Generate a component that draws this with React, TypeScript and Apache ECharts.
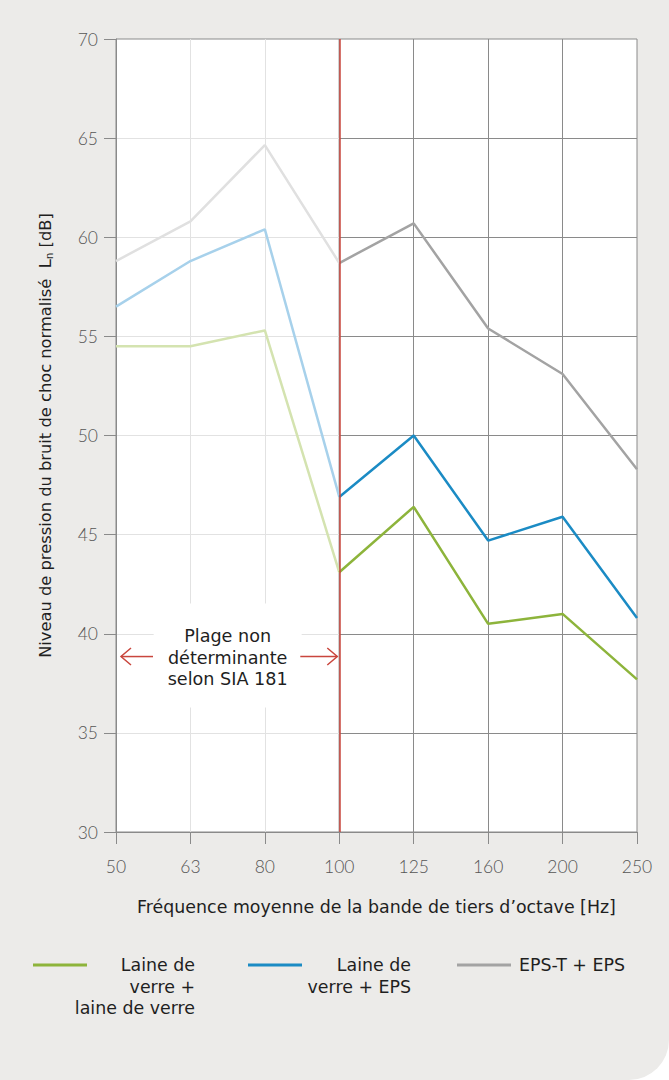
import React, { useEffect, useRef } from "react";
import * as echarts from "echarts";

// Third-octave band centre frequencies [Hz]
const FREQUENCIES = ["50", "63", "80", "100", "125", "160", "200", "250"];
// Bands up to 100 Hz are not decisive according to SIA 181
const SPLIT_INDEX = 3;

// Normalised impact sound pressure level L'n [dB] per construction
const LAINE_LAINE = [54.5, 54.5, 55.3, 43.1, 46.4, 40.5, 41.0, 37.7];
const LAINE_EPS = [56.5, 58.8, 60.4, 46.9, 50.0, 44.7, 45.9, 40.8];
const EPST_EPS = [58.8, 60.8, 64.65, 58.7, 60.7, 55.4, 53.1, 48.3];

const SERIES_VALUES = [LAINE_LAINE, LAINE_EPS, EPST_EPS];
const SERIES_NAMES = [
  "Laine de verre + laine de verre",
  "Laine de verre + EPS",
  "EPS-T + EPS",
];
const LEGEND_LABELS = ["Laine de\nverre +\nlaine de verre", "Laine de\nverre + EPS", "EPS-T + EPS"];

const Y_MIN = 30;
const Y_MAX = 70;
const Y_STEP = 5;

const NOTE_LINES = ["Plage non", "déterminante", "selon SIA 181"];
const NOTE_LEVEL = 38.85;

const X_TITLE = "Fréquence moyenne de la bande de tiers d’octave [Hz]";

// Styling
const DARK = ["#8db43b", "#1b8bc4", "#a3a3a3"];
const LIGHT = ["#d4e3b0", "#a7d1eb", "#e0e0e0"];
const GRID_LIGHT = "#e2e2e2";
const GRID_DARK = "#8a8a8a";
const RED = "#c9463d";
const FONT = "'DejaVu Sans', 'Open Sans', sans-serif";
const NUM_FONT = "Lato, 'Open Sans', sans-serif";
const TEXT = "#1f1f1f";

// Plot layout
const PLOT_LEFT = 116;
const PLOT_RIGHT = 637;
const PLOT_TOP = 39;
const PLOT_BOTTOM = 832;
const STEP = (PLOT_RIGHT - PLOT_LEFT) / (FREQUENCIES.length - 1);
const SPLIT_X = PLOT_LEFT + STEP * SPLIT_INDEX;

function buildOption(): echarts.EChartsOption {
  const gridBase = {
    top: PLOT_TOP,
    height: PLOT_BOTTOM - PLOT_TOP,
    show: true,
    backgroundColor: "#ffffff",
    borderColor: GRID_DARK,
    borderWidth: 1,
    containLabel: false,
  };

  const tickStyle = { show: true, inside: false, length: 12, lineStyle: { color: GRID_DARK, width: 1 } };
  const labelStyle = { color: "#555555", fontSize: 17.5, fontFamily: NUM_FONT, fontWeight: 300 as any };

  const leftCats = FREQUENCIES.slice(0, SPLIT_INDEX + 1);
  const rightCats = FREQUENCIES.slice(SPLIT_INDEX);

  const series: any[] = [];
  SERIES_VALUES.forEach((values, i) => {
    series.push({
      name: SERIES_NAMES[i] + " (50–100 Hz)",
      type: "line",
      xAxisIndex: 0,
      yAxisIndex: 0,
      data: values.slice(0, SPLIT_INDEX + 1),
      symbol: "none",
      lineStyle: { color: LIGHT[i], width: 2.5 },
      z: 2,
    });
  });
  SERIES_VALUES.forEach((values, i) => {
    series.push({
      name: SERIES_NAMES[i],
      type: "line",
      xAxisIndex: 1,
      yAxisIndex: 1,
      data: values.slice(SPLIT_INDEX),
      symbol: "none",
      lineStyle: { color: DARK[i], width: 2.5 },
      z: 3,
      markLine:
        i === 0
          ? {
              silent: true,
              symbol: ["none", "none"],
              label: { show: false },
              lineStyle: { color: RED, width: 1.5, type: "solid" },
              data: [{ xAxis: FREQUENCIES[SPLIT_INDEX] }],
              z: 5,
            }
          : undefined,
    });
  });

  return {
    animation: false,
    backgroundColor: "transparent",
    textStyle: { fontFamily: FONT },
    grid: [
      { ...gridBase, left: PLOT_LEFT, width: SPLIT_X - PLOT_LEFT },
      { ...gridBase, left: SPLIT_X, width: PLOT_RIGHT - SPLIT_X },
    ],
    xAxis: [
      {
        type: "category",
        gridIndex: 0,
        data: leftCats,
        boundaryGap: false,
        axisLine: { show: true, lineStyle: { color: GRID_DARK } },
        axisTick: { ...tickStyle, alignWithLabel: true },
        axisLabel: { ...labelStyle, margin: 25, interval: 0 },
        splitLine: { show: true, showMinLine: false, showMaxLine: false, lineStyle: { color: GRID_LIGHT, width: 1 } },
      },
      {
        type: "category",
        gridIndex: 1,
        data: rightCats,
        boundaryGap: false,
        axisLine: { show: true, lineStyle: { color: GRID_DARK } },
        axisTick: { ...tickStyle, alignWithLabel: true },
        axisLabel: {
          ...labelStyle,
          margin: 25,
          interval: 0,
          formatter: (v: string, idx: number) => (idx === 0 ? "" : v),
        },
        splitLine: { show: true, showMinLine: false, showMaxLine: false, lineStyle: { color: GRID_DARK, width: 1 } },
      },
    ],
    yAxis: [
      {
        type: "value",
        gridIndex: 0,
        min: Y_MIN,
        max: Y_MAX,
        interval: Y_STEP,
        axisLine: { show: true, lineStyle: { color: GRID_DARK } },
        axisTick: tickStyle,
        axisLabel: { ...labelStyle, margin: 18 },
        splitLine: { show: true, showMinLine: false, showMaxLine: false, lineStyle: { color: GRID_LIGHT, width: 1 } },
        name: "Niveau de pression du bruit de choc normalisé  L{sub|n} [dB]",
        nameLocation: "middle",
        nameGap: 62,
        nameRotate: 90,
        nameTextStyle: {
          color: TEXT,
          fontSize: 16.3,
          fontFamily: FONT,
          rich: {
            sub: { fontSize: 10.5, fontFamily: FONT, color: TEXT, verticalAlign: "bottom", padding: [6, 0, 0, 0] },
          },
        },
      },
      {
        type: "value",
        gridIndex: 1,
        min: Y_MIN,
        max: Y_MAX,
        interval: Y_STEP,
        axisLine: { show: false },
        axisTick: { show: false },
        axisLabel: { show: false },
        splitLine: { show: true, showMinLine: false, showMaxLine: false, lineStyle: { color: GRID_DARK, width: 1 } },
      },
    ],
    series,
  };
}

function buildGraphics(chart: echarts.ECharts): any[] {
  const p50 = chart.convertToPixel({ gridIndex: 0 }, [FREQUENCIES[0], NOTE_LEVEL]) as number[];
  const p100 = chart.convertToPixel({ gridIndex: 0 }, [FREQUENCIES[SPLIT_INDEX], NOTE_LEVEL]) as number[];
  const ay = p50[1];
  const cx = (p50[0] + p100[0]) / 2;
  const arrowStyle = { stroke: RED, lineWidth: 1.5, fill: "none" };
  const head = 10;
  const headH = 8.5;

  const leftTip = p50[0] + 5;
  const rightTip = p100[0] - 2;

  const els: any[] = [
    // note background hides the grid
    {
      type: "rect",
      z: 10,
      shape: { x: cx - 74, y: ay - 53, width: 148, height: 104 },
      style: { fill: "#ffffff" },
    },
    {
      type: "text",
      z: 11,
      x: cx,
      y: ay + 1,
      style: {
        text: NOTE_LINES.join("\n"),
        align: "center",
        verticalAlign: "middle",
        fontSize: 17.6,
        fontFamily: FONT,
        lineHeight: 21.5,
        fill: TEXT,
      },
    },
    { type: "line", z: 11, shape: { x1: leftTip, y1: ay, x2: leftTip + 32, y2: ay }, style: arrowStyle },
    {
      type: "polyline",
      z: 11,
      shape: { points: [[leftTip + head, ay - headH], [leftTip, ay], [leftTip + head, ay + headH]] },
      style: arrowStyle,
    },
    { type: "line", z: 11, shape: { x1: rightTip - 37, y1: ay, x2: rightTip, y2: ay }, style: arrowStyle },
    {
      type: "polyline",
      z: 11,
      shape: { points: [[rightTip - head, ay - headH], [rightTip, ay], [rightTip - head, ay + headH]] },
      style: arrowStyle,
    },
    // x axis title
    {
      type: "text",
      x: (PLOT_LEFT + PLOT_RIGHT) / 2,
      y: 907,
      style: {
        text: X_TITLE,
        align: "center",
        verticalAlign: "middle",
        fontSize: 17.4,
        fontFamily: FONT,
        fill: TEXT,
      },
    },
  ];

  // legend: swatch + label
  const swatchX = [33, 248, 457];
  const labelX = [195, 411, 519];
  const labelAlign = ["right", "right", "left"];
  const legendY = 965;
  LEGEND_LABELS.forEach((label, i) => {
    els.push({
      type: "line",
      shape: { x1: swatchX[i], y1: legendY, x2: swatchX[i] + 54, y2: legendY },
      style: { stroke: DARK[i], lineWidth: 3 },
    });
    els.push({
      type: "text",
      x: labelX[i],
      y: legendY - 10.85,
      style: {
        text: label,
        align: labelAlign[i],
        verticalAlign: "top",
        fontSize: 17.4,
        lineHeight: 21.7,
        fontFamily: FONT,
        fill: TEXT,
      },
    });
  });
  return els;
}

export default function App() {
  const ref = useRef<HTMLDivElement>(null);

  useEffect(() => {
    if (!ref.current) return;
    const chart = echarts.init(ref.current, null, { renderer: "svg" });
    chart.setOption(buildOption());
    chart.setOption({ graphic: buildGraphics(chart) });
    return () => chart.dispose();
  }, []);

  return (
    <div style={{ position: "fixed", left: 0, top: 0, width: 669, height: 1080, background: "#ffffff" }}>
      <div
        style={{
          position: "absolute",
          inset: 0,
          background: "#ecebe9",
          borderBottomRightRadius: 40,
        }}
      />
      <div ref={ref} style={{ position: "absolute", left: 0, top: 0, width: 669, height: 1080 }} />
    </div>
  );
}
